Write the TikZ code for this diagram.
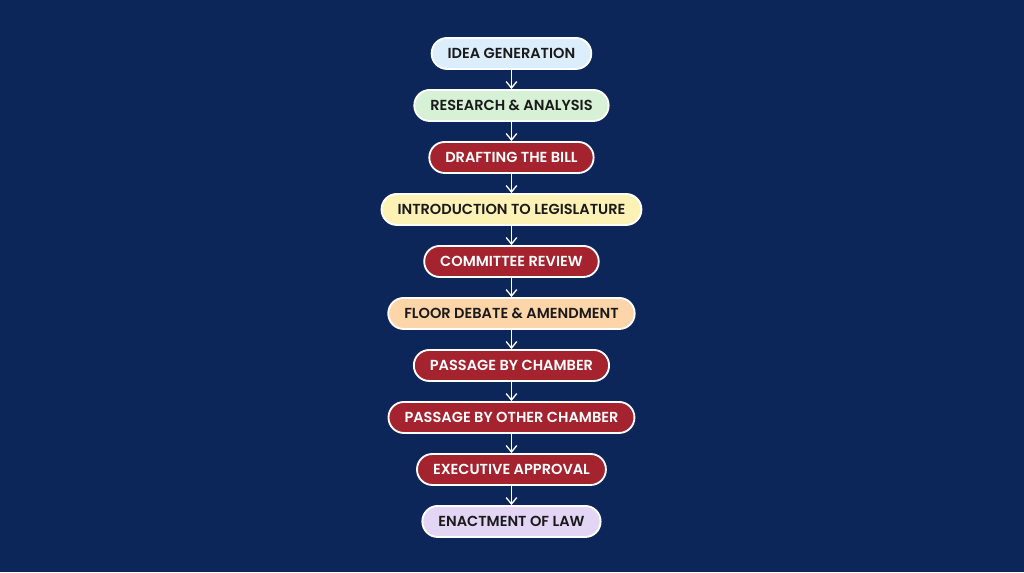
\documentclass[tikz,border=0pt]{standalone}
\usepackage{fontspec}
\setsansfont{Poppins}[BoldFont={* SemiBold}]
\usetikzlibrary{positioning, arrows.meta}
\usepackage{xcolor}

\definecolor{navy}{HTML}{0C2659}
\definecolor{ideablue}{HTML}{DCEEFB}
\definecolor{researchgreen}{HTML}{D6F1D6}
\definecolor{billred}{HTML}{A5232E}
\definecolor{introyellow}{HTML}{FDF2B6}
\definecolor{debatepeach}{HTML}{FDD5A8}
\definecolor{lawlilac}{HTML}{E3D6F5}
\definecolor{darktext}{HTML}{1A1A1A}

\begin{document}
\begin{tikzpicture}[
    node distance=14.35pt,
    stage/.style={rectangle, rounded corners=11.5pt, draw=white, line width=1.4pt, minimum height=23.25pt, inner xsep=12pt, align=center, text=darktext},
    redstage/.style={stage, fill=billred, text=white},
    flow/.style={-{Straight Barb[length=1.7mm, width=2.8mm]}, draw=white, line width=1pt},
    every node/.style={font=\sffamily\bfseries\fontsize{10.9pt}{12pt}\selectfont}
]
    % Background
    \fill[navy] (-383.6pt,-388.9pt) rectangle (384.4pt,40.1pt);
    \useasboundingbox (-383.6pt,-388.9pt) rectangle (384.4pt,40.1pt);

    % Idea Generation
    \node[stage, fill=ideablue] (idea) {IDEA GENERATION};

    % Research & Analysis
    \node[stage, fill=researchgreen, below=of idea] (research) {RESEARCH \& ANALYSIS};

    % Drafting
    \node[redstage, below=of research] (drafting) {DRAFTING THE BILL};

    % Introduction
    \node[stage, fill=introyellow, below=of drafting] (intro) {INTRODUCTION TO LEGISLATURE};

    % Committee
    \node[redstage, below=of intro] (committee) {COMMITTEE REVIEW};

    % Floor Debate
    \node[stage, fill=debatepeach, below=of committee] (debate) {FLOOR DEBATE \& AMENDMENT};

    % Passage
    \node[redstage, below=of debate] (passage) {PASSAGE BY CHAMBER};

    % Other Chamber
    \node[redstage, below=of passage] (other) {PASSAGE BY OTHER CHAMBER};

    % Executive Approval
    \node[redstage, below=of other] (approval) {EXECUTIVE APPROVAL};

    % Enactment
    \node[stage, fill=lawlilac, below=of approval] (law) {ENACTMENT OF LAW};

    % Flow
    \draw[flow] (idea) -- (research);
    \draw[flow] (research) -- (drafting);
    \draw[flow] (drafting) -- (intro);
    \draw[flow] (intro) -- (committee);
    \draw[flow] (committee) -- (debate);
    \draw[flow] (debate) -- (passage);
    \draw[flow] (passage) -- (other);
    \draw[flow] (other) -- (approval);
    \draw[flow] (approval) -- (law);

\end{tikzpicture}
\end{document}
